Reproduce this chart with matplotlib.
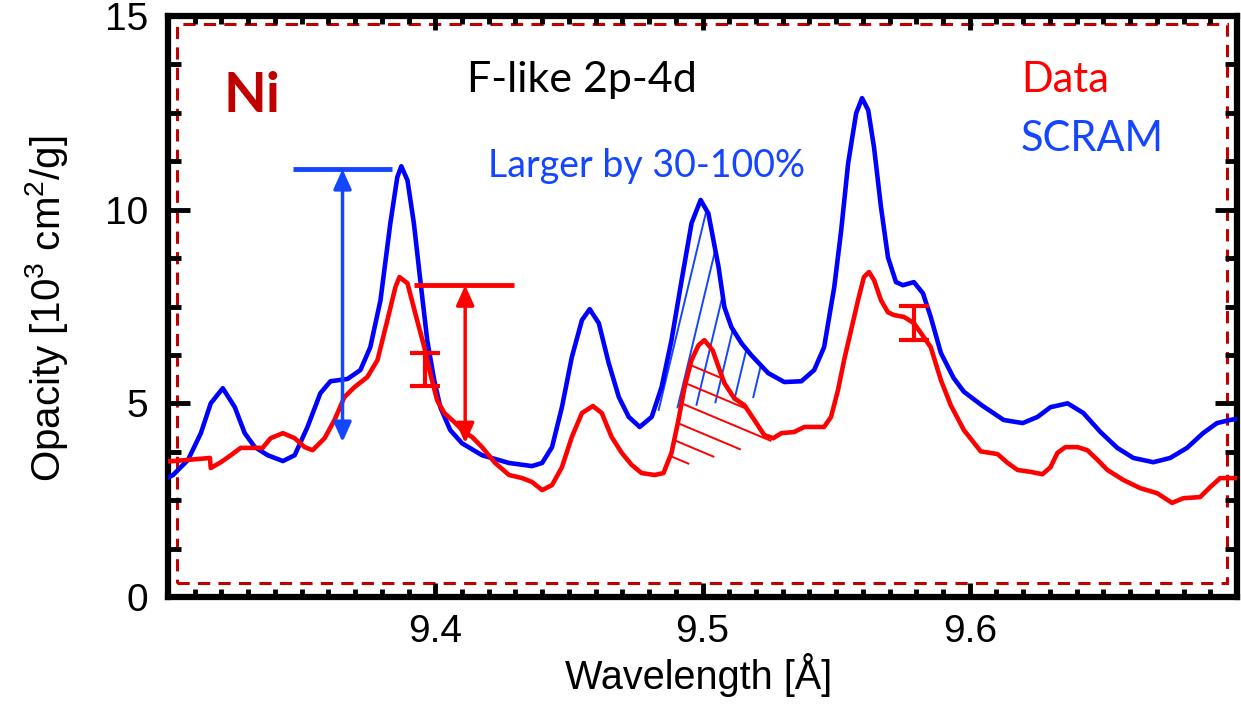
import matplotlib
matplotlib.use("Agg")
import matplotlib.pyplot as plt
from matplotlib.patches import Rectangle
from matplotlib.ticker import MultipleLocator
import numpy as np

# SCRAM model (blue)
scram_x = [9.3000, 9.3019, 9.3075, 9.3123, 9.3160, 9.3205, 9.3250, 9.3287, 9.3325, 9.3373,
           9.3430, 9.3474, 9.3522, 9.3570, 9.3608, 9.3672, 9.3720, 9.3757, 9.3795, 9.3832,
           9.3858, 9.3873, 9.3896, 9.3920, 9.3944, 9.3970, 9.3996, 9.4019, 9.4056, 9.4100,
           9.4175, 9.4276, 9.4362, 9.4400, 9.4437, 9.4474, 9.4511, 9.4549, 9.4578, 9.4612,
           9.4649, 9.4687, 9.4724, 9.4765, 9.4810, 9.4847, 9.4884, 9.4922, 9.4959, 9.4993,
           9.5022, 9.5060, 9.5082, 9.5108, 9.5146, 9.5183, 9.5246, 9.5306, 9.5370, 9.5418,
           9.5455, 9.5493, 9.5519, 9.5545, 9.5575, 9.5597, 9.5620, 9.5642, 9.5668, 9.5694,
           9.5724, 9.5750, 9.5791, 9.5825, 9.5854, 9.5892, 9.5940, 9.5978, 9.6045, 9.6127,
           9.6198, 9.6254, 9.6302, 9.6366, 9.6425, 9.6489, 9.6552, 9.6612, 9.6687, 9.6750,
           9.6813, 9.6873, 9.6925, 9.6974, 9.7000]
scram_y = [3.08, 3.15, 3.54, 4.23, 5.00, 5.39, 4.90, 4.23, 3.87, 3.66,
           3.51, 3.66, 4.39, 5.26, 5.57, 5.63, 5.86, 6.45, 7.66, 9.65,
           10.84, 11.12, 10.76, 9.65, 8.18, 6.63, 5.60, 4.90, 4.31, 3.97,
           3.66, 3.46, 3.38, 3.46, 3.87, 4.90, 6.19, 7.15, 7.43, 7.07,
           6.04, 5.16, 4.65, 4.39, 4.65, 5.42, 6.63, 8.18, 9.65, 10.25,
           9.90, 8.52, 7.48, 6.97, 6.55, 6.24, 5.78, 5.55, 5.57, 5.86,
           6.45, 8.00, 9.47, 11.20, 12.49, 12.88, 12.57, 11.60, 10.06, 8.77,
           8.13, 8.05, 8.13, 7.84, 7.23, 6.30, 5.65, 5.30, 4.95, 4.57,
           4.49, 4.65, 4.90, 5.00, 4.75, 4.26, 3.85, 3.59, 3.48, 3.59,
           3.85, 4.23, 4.49, 4.57, 4.60]

# measured data (red)
data_x = [9.3000, 9.3075, 9.3157, 9.3160, 9.3198, 9.3235, 9.3272, 9.3310, 9.3354, 9.3384,
          9.3430, 9.3474, 9.3511, 9.3541, 9.3586, 9.3623, 9.3660, 9.3698, 9.3746, 9.3784,
          9.3821, 9.3851, 9.3866, 9.3896, 9.3925, 9.3959, 9.3981, 9.4007, 9.4034, 9.4071,
          9.4108, 9.4138, 9.4175, 9.4224, 9.4276, 9.4325, 9.4362, 9.4400, 9.4437, 9.4474,
          9.4511, 9.4549, 9.4590, 9.4623, 9.4660, 9.4698, 9.4735, 9.4772, 9.4821, 9.4854,
          9.4884, 9.4910, 9.4933, 9.4959, 9.4985, 9.5007, 9.5038, 9.5060, 9.5082, 9.5119,
          9.5157, 9.5194, 9.5231, 9.5265, 9.5295, 9.5343, 9.5381, 9.5425, 9.5455, 9.5481,
          9.5507, 9.5530, 9.5556, 9.5582, 9.5604, 9.5623, 9.5642, 9.5668, 9.5694, 9.5716,
          9.5754, 9.5791, 9.5828, 9.5854, 9.5892, 9.5929, 9.5978, 9.6041, 9.6104, 9.6142,
          9.6179, 9.6228, 9.6272, 9.6302, 9.6328, 9.6358, 9.6403, 9.6440, 9.6478, 9.6515,
          9.6575, 9.6638, 9.6701, 9.6757, 9.6799, 9.6862, 9.6900, 9.6937, 9.6974, 9.7000]
data_y = [3.50, 3.54, 3.59, 3.33, 3.48, 3.66, 3.85, 3.85, 3.85, 4.10,
          4.23, 4.10, 3.87, 3.79, 4.10, 4.57, 5.16, 5.42, 5.68, 6.12,
          7.15, 8.00, 8.26, 8.10, 7.33, 6.45, 5.78, 5.08, 4.75, 4.52,
          4.26, 4.13, 3.87, 3.46, 3.15, 3.07, 2.97, 2.76, 2.89, 3.35,
          4.13, 4.75, 4.93, 4.75, 4.13, 3.72, 3.41, 3.20, 3.15, 3.20,
          3.72, 4.57, 5.42, 6.12, 6.50, 6.63, 6.37, 5.94, 5.52, 5.13,
          4.95, 4.57, 4.18, 4.10, 4.23, 4.26, 4.39, 4.39, 4.39, 4.65,
          5.34, 6.12, 6.89, 7.66, 8.26, 8.39, 8.18, 7.66, 7.35, 7.28,
          7.23, 7.07, 6.71, 6.45, 5.60, 4.95, 4.31, 3.76, 3.69, 3.46,
          3.28, 3.23, 3.17, 3.35, 3.72, 3.87, 3.87, 3.79, 3.54, 3.28,
          3.02, 2.81, 2.68, 2.43, 2.55, 2.58, 2.84, 3.07, 3.07, 3.07]

# error bars on the data
err_x = [9.3963, 9.5791]
err_y = [5.875, 7.07]
err_size = [0.425, 0.44]

BLUE = "#0000FF"
BLUE2 = "#1446FF"
RED = "#FF0000"
DARKRED = "#C00000"

plt.rcParams["font.family"] = ["Liberation Sans", "DejaVu Sans"]
plt.rcParams["mathtext.fontset"] = "custom"
plt.rcParams["mathtext.rm"] = "Liberation Sans"
plt.rcParams["mathtext.default"] = "regular"

fig = plt.figure(figsize=(12.41, 7.21), dpi=100)
ax = fig.add_axes([168 / 1241, 124 / 721, 1069 / 1241, 581 / 721])

ax.plot(scram_x, scram_y, color=BLUE, lw=3.3, solid_joinstyle="round", zorder=3)
ax.plot(data_x, data_y, color=RED, lw=3.3, solid_joinstyle="round", zorder=3)
ax.errorbar(err_x, err_y, yerr=err_size, fmt="none", ecolor=RED, elinewidth=3,
            capsize=10.5, capthick=3, zorder=4)

# hatch lines: blue under the SCRAM peak, red inside the data peak
bx0 = np.linspace(9.4836, 9.5190, 6)
by0 = np.linspace(4.83, 5.16, 6)
t = np.linspace(0, 8, 2000)
for x0, y0 in zip(bx0, by0):
    xs = x0 + 0.00347 * t
    ys = y0 + t
    k = np.argmax(ys >= np.interp(xs, scram_x, scram_y))
    ax.plot([x0, xs[k]], [y0, ys[k]], color=BLUE2, lw=1.4, zorder=2)

rise = slice(49, 56)
ry0 = [5.99, 5.52, 5.00, 4.49, 4.05, 3.64]
s = np.linspace(0, 0.05, 2000)
for y0 in ry0:
    x0 = np.interp(y0, data_y[rise], data_x[rise])
    xs = x0 + s
    ys = y0 - 29.0 * s
    out = (ys >= np.interp(xs, data_x, data_y) + 0.02) | (ys <= 3.51 + 19.3 * (xs - 9.4981))
    out[:20] = False
    k = np.argmax(out)
    ax.plot([x0, xs[k]], [y0, ys[k]], color=RED, lw=1.4, zorder=2)

# double arrows with reference bars
arr = dict(arrowstyle="<|-|>,head_length=0.4,head_width=0.18", lw=2.5,
           shrinkA=0, shrinkB=0, mutation_scale=30)
ax.annotate("", xy=(9.3653, 11.05), xytext=(9.3653, 4.0),
            arrowprops=dict(arr, color=BLUE2), zorder=4)
ax.hlines(11.05, 9.3466, 9.3840, color=BLUE2, lw=3.5, zorder=4)
ax.annotate("", xy=(9.4112, 8.05), xytext=(9.4112, 3.97),
            arrowprops=dict(arr, color=RED), zorder=4)
ax.hlines(8.05, 9.3922, 9.4295, color=RED, lw=3.5, zorder=4)

# dashed inner frame
ax.add_patch(Rectangle((0.0084, 0.024), 0.9822, 0.962, transform=ax.transAxes,
                       fill=False, ec=DARKRED, lw=2.2, ls=(0, (4, 2.7)), zorder=1))

txt = ["Lato", "DejaVu Sans"]
ax.text(0.0515, 0.835, "Ni", transform=ax.transAxes, color=DARKRED, fontsize=40,
        fontweight="bold", family=txt, va="baseline")
ax.text(0.2797, 0.869, "F-like 2p-4d", transform=ax.transAxes, color="black",
        fontsize=31, family=txt, va="baseline")
ax.text(0.2993, 0.7229, "Larger by 30-100%", transform=ax.transAxes, color=BLUE2,
        fontsize=27, family=txt, va="baseline")
ax.text(0.798, 0.869, "Data", transform=ax.transAxes, color=RED, fontsize=30,
        family=txt, va="baseline")
ax.text(0.798, 0.7676, "SCRAM", transform=ax.transAxes, color=BLUE2, fontsize=30,
        family=txt, va="baseline")

ax.set_xlim(9.3, 9.7)
ax.set_ylim(0, 15)
ax.set_xticks([9.4, 9.5, 9.6])
ax.set_yticks([0, 5, 10, 15])
ax.xaxis.set_minor_locator(MultipleLocator(0.01))
ax.yaxis.set_minor_locator(MultipleLocator(1.25))
ax.tick_params(which="both", direction="in", top=True, right=True, width=3.5,
               labelsize=28)
ax.tick_params(axis="x", which="major", length=10, pad=12)
ax.tick_params(axis="x", which="minor", length=6)
ax.tick_params(axis="y", which="major", length=16, pad=14)
ax.tick_params(axis="y", which="minor", length=9)
for sp in ax.spines.values():
    sp.set_linewidth(4.5)

ax.set_xlabel("Wavelength [Å]", fontsize=28.5)
ax.set_ylabel("Opacity [10$^{3}$ cm$^{2}$/g]", fontsize=29)
ax.xaxis.set_label_coords(0.4967, -0.096)
ax.yaxis.set_label_coords(-0.092, 0.497)

fig.savefig("out.png", dpi=100)
